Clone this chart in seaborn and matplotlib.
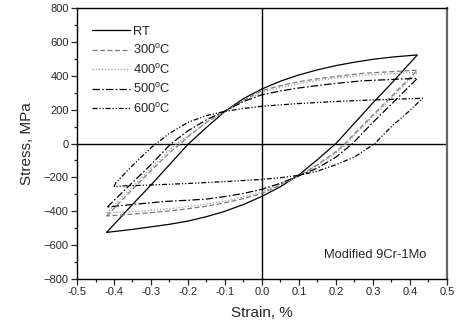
import pandas as pd
import matplotlib
matplotlib.use('Agg')
import matplotlib.pyplot as plt
import seaborn as sns
from matplotlib.ticker import MultipleLocator, FormatStrFormatter

# Lazos de histeresis (deformacion %, esfuerzo MPa): rama de carga y luego de descarga
rt_strain = [-0.42, -0.35, -0.30, -0.25, -0.20, -0.15, -0.10, -0.05, 0.00, 0.05, 0.10, 0.15, 0.20, 0.25, 0.30, 0.35, 0.42,
             0.35, 0.30, 0.25, 0.20, 0.15, 0.10, 0.05, 0.00, -0.05, -0.10, -0.15, -0.20, -0.25, -0.30, -0.35, -0.42]
rt_stress = [-525, -360, -245, -125, -5, 95, 190, 265, 322, 368, 405, 435, 460, 480, 497, 510, 523,
             355, 240, 120, 0, -95, -185, -255, -312, -360, -400, -432, -458, -477, -492, -507, -525]

t300_strain = [-0.42, -0.35, -0.30, -0.25, -0.22, -0.20, -0.15, -0.10, -0.05, 0.00, 0.05, 0.10, 0.15, 0.20, 0.27, 0.35, 0.42,
               0.35, 0.30, 0.25, 0.225, 0.20, 0.15, 0.10, 0.05, 0.00, -0.05, -0.10, -0.15, -0.20, -0.25, -0.30, -0.35, -0.42]
t300_stress = [-428, -270, -160, -55, 0, 40, 125, 190, 255, 312, 342, 365, 382, 396, 414, 424, 433,
               278, 168, 58, 0, -48, -125, -190, -245, -295, -325, -350, -370, -385, -398, -408, -417, -428]

t400_strain = [-0.42, -0.35, -0.30, -0.25, -0.23, -0.20, -0.15, -0.10, -0.05, 0.00, 0.05, 0.10, 0.15, 0.20, 0.27, 0.35, 0.42,
               0.35, 0.30, 0.25, 0.23, 0.20, 0.15, 0.10, 0.05, 0.00, -0.05, -0.10, -0.15, -0.20, -0.25, -0.30, -0.35, -0.42]
t400_stress = [-410, -255, -145, -40, 0, 45, 125, 188, 248, 302, 332, 354, 372, 386, 403, 412, 420,
               268, 160, 50, 0, -55, -130, -192, -240, -285, -315, -340, -358, -372, -385, -395, -402, -410]

t500_strain = [-0.418, -0.35, -0.30, -0.25, -0.245, -0.20, -0.15, -0.10, -0.05, 0.00, 0.05, 0.10, 0.15, 0.20, 0.27, 0.35, 0.42,
               0.35, 0.30, 0.245, 0.20, 0.15, 0.10, 0.05, 0.00, -0.05, -0.10, -0.15, -0.20, -0.26, -0.30, -0.35, -0.418]
t500_stress = [-375, -230, -125, -10, 0, 75, 140, 192, 248, 288, 310, 328, 342, 355, 370, 378, 385,
               232, 125, 0, -80, -145, -190, -235, -270, -295, -313, -328, -335, -342, -350, -360, -375]

t600_strain = [-0.40, -0.395, -0.35, -0.30, -0.25, -0.20, -0.15, -0.10, -0.05, 0.00, 0.10, 0.20, 0.30, 0.434,
               0.40, 0.35, 0.305, 0.25, 0.20, 0.15, 0.10, 0.05, 0.00, -0.10, -0.20, -0.30, -0.37, -0.39, -0.40]
t600_stress = [-255, -232, -130, -25, 60, 125, 165, 190, 207, 220, 236, 248, 257, 267,
               195, 100, 0, -80, -125, -163, -188, -202, -212, -225, -236, -245, -250, -254, -255]

labels = ['RT', '300$^\\mathrm{o}$C', '400$^\\mathrm{o}$C', '500$^\\mathrm{o}$C', '600$^\\mathrm{o}$C']

series = [(rt_strain, rt_stress), (t300_strain, t300_stress), (t400_strain, t400_stress),
          (t500_strain, t500_stress), (t600_strain, t600_stress)]
frames = []
for lab, (xs, ys) in zip(labels, series):
    frames.append(pd.DataFrame({'Strain': xs, 'Stress': ys, 'Serie': lab}))
df = pd.concat(frames, ignore_index=True)

sns.set_style('ticks')
plt.rcParams['font.family'] = ['Liberation Sans', 'DejaVu Sans']
plt.rcParams['mathtext.fontset'] = 'custom'
plt.rcParams['mathtext.rm'] = 'Liberation Sans'

palette = {labels[0]: 'black', labels[1]: '#7a7a7a', labels[2]: '#9a9a9a',
           labels[3]: 'black', labels[4]: 'black'}
dashes = {labels[0]: '', labels[1]: (4, 2), labels[2]: (1, 1.5),
          labels[3]: (6, 1.8, 1.2, 1.8), labels[4]: (4, 1.5, 1, 1.5, 1, 1.5)}

fig = plt.figure(figsize=(4.57, 3.28), dpi=100)
ax = fig.add_axes([0.1685, 0.1494, 0.8095, 0.8262])

ax.axhline(0, color='black', lw=1.0, zorder=1)
ax.axvline(0, color='black', lw=1.0, zorder=1)

sns.lineplot(data=df, x='Strain', y='Stress', hue='Serie', style='Serie', units='Serie',
             palette=palette, dashes=dashes, sort=False, estimator=None,
             linewidth=0.9, ax=ax)

ax.set_xlim(-0.5, 0.5)
ax.set_ylim(-800, 800)
ax.xaxis.set_major_locator(MultipleLocator(0.1))
ax.xaxis.set_minor_locator(MultipleLocator(0.05))
ax.xaxis.set_major_formatter(FormatStrFormatter('%.1f'))
ax.yaxis.set_major_locator(MultipleLocator(200))
ax.yaxis.set_minor_locator(MultipleLocator(100))
ax.tick_params(which='major', direction='out', length=4, width=0.9, labelsize=8, pad=2)
ax.tick_params(which='minor', direction='out', length=2.5, width=0.9)
ax.tick_params(top=False, right=False, which='both')

for s in ['left', 'bottom', 'top']:
    ax.spines[s].set_linewidth(1.0)
    ax.spines[s].set_color('black')
ax.spines['right'].set_linewidth(1.6)
ax.spines['right'].set_color('#666666')

ax.set_xlabel('Strain, %', fontsize=11, labelpad=6)
ax.set_ylabel('Stress, MPa', fontsize=11, labelpad=7)

ax.text(0.445, -657, 'Modified 9Cr-1Mo', fontsize=9.3, ha='right', va='center')

handles, labs = ax.get_legend_handles_labels()
ax.legend(handles, labs, loc='upper left', bbox_to_anchor=(0.02, 0.963), frameon=False,
          fontsize=9.3, handlelength=2.9, handletextpad=0.25, labelspacing=0.42, borderaxespad=0.2)

fig.savefig('out.png', dpi=100)
